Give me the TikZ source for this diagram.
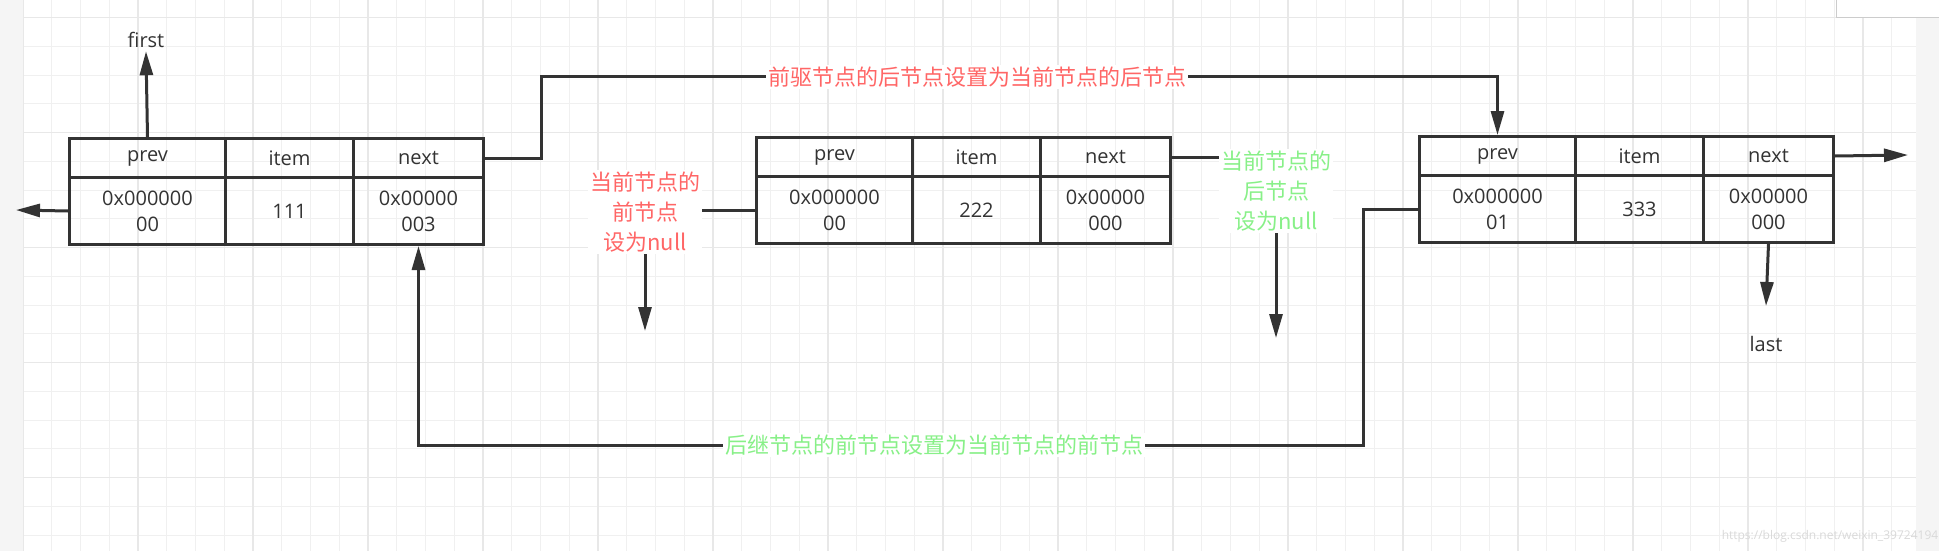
\documentclass[tikz,border=0pt]{standalone}
\usepackage{fontspec}
\setmainfont{Open Sans}
\newfontfamily\cjk{Noto Sans CJK SC}
\usetikzlibrary{arrows.meta}
\definecolor{ink}{HTML}{333333}
\definecolor{redt}{HTML}{FF6666}
\definecolor{greent}{HTML}{88F088}
\tikzset{
  cell/.style={draw=ink,line width=3pt,rectangle,inner sep=0pt,anchor=north west,
    font=\fontsize{20}{26}\selectfont,text=ink,align=center},
  hd/.style={cell,minimum height=39pt},
  bd/.style={cell,minimum height=67pt},
  conn/.style={draw=ink,line width=3pt},
  arr/.style={conn,-{Triangle[length=24pt,width=13pt]}},
  lbl/.style={font=\cjk\fontsize{22}{30}\selectfont,fill=white,inner sep=2pt,align=center},
  plain/.style={font=\fontsize{20}{26}\selectfont,text=ink},
}
\newcommand\llbox[6]{%
  \node[hd,minimum width=156pt] (#1p) at (#2,#3) {prev};
  \node[hd,minimum width=128pt] (#1i) at (#2+156,#3) {item};
  \node[hd,minimum width=130pt] (#1n) at (#2+284,#3) {next};
  \node[bd,minimum width=156pt] (#1pb) at (#2,#3+39) {#4};
  \node[bd,minimum width=128pt] (#1ib) at (#2+156,#3+39) {#5};
  \node[bd,minimum width=130pt] (#1nb) at (#2+284,#3+39) {#6};
}
\begin{document}
\begin{tikzpicture}[x=1pt,y=-1pt]
\useasboundingbox (0,0) rectangle (1939,551);
\fill[gray!8] (0,0) rectangle (1939,551);
\fill[white] (23,0) rectangle (1916,551);
\begin{scope}
\clip (23,0) rectangle (1916,551);
\foreach \i in {0,...,66} \draw[gray!12,line width=1pt] (23+28.75*\i,0) -- (23+28.75*\i,551);
\foreach \j in {-1,...,19} \draw[gray!12,line width=1pt] (23,17.6+28.75*\j) -- (1916,17.6+28.75*\j);
\foreach \i in {0,...,16} \draw[gray!18,line width=1.5pt] (23+115*\i,0) -- (23+115*\i,551);
\foreach \j in {0,...,4} \draw[gray!18,line width=1.5pt] (23,17.6+115*\j) -- (1916,17.6+115*\j);
\end{scope}
\draw[gray!40,fill=white,line width=1pt] (1836,-2) rectangle (1945,18);

\llbox{A}{68}{137}{0x000000\\00}{111}{0x00000\\003}
\llbox{B}{755}{136}{0x000000\\00}{222}{0x00000\\000}
\llbox{C}{1418}{135}{0x000000\\01}{333}{0x00000\\000}

\node[plain] (first) at (146,40) {first};
\node[plain] (last) at (1766,344) {last};
\coordinate (leftend) at (16,210);
\coordinate (rightend) at (1908,155);
\coordinate (lastend) at (1766,306);
\coordinate (rdown) at (645,331);
\coordinate (gdown) at (1276,338);

\node[lbl,text=redt] (top) at (977,77) {前驱节点的后节点设置为当前节点的后节点};
\node[lbl,text=greent] (bot) at (934,445) {后继节点的前节点设置为当前节点的前节点};
\node[lbl,text=redt] (rnull) at (645,212) {当前节点的\\前节点\\设为null};
\node[lbl,text=greent] (gnull) at (1276,191) {当前节点的\\后节点\\设为null};

\draw[arr] (Ap.north) -- (first.south);
\draw[arr] (Apb.west) -- (leftend);
\draw[arr] (Cn.east) -- (rightend);
\draw[arr] (Cnb.south) -- (lastend);
\draw[conn] (An.east) -- ++(56,0) |- (top.west);
\draw[arr] (top.east) -| (Cp.north);
\draw[conn] (Cpb.west) -- ++(-55,0) |- (bot.east);
\draw[arr] (bot.west) -| (Anb.south);
\draw[conn] (Bpb.west) -- (Bpb.west -| rnull.east);
\draw[arr] (rnull.south) -- (rdown);
\draw[conn] (Bn.east) -- (Bn.east -| gnull.west);
\draw[arr] (gnull.south) -- (gdown);
\node[font=\fontsize{12}{14}\selectfont,text=gray!30] (wm) at (1830,536) {https://blog.csdn.net/weixin\_39724194};
\end{tikzpicture}
\end{document}
